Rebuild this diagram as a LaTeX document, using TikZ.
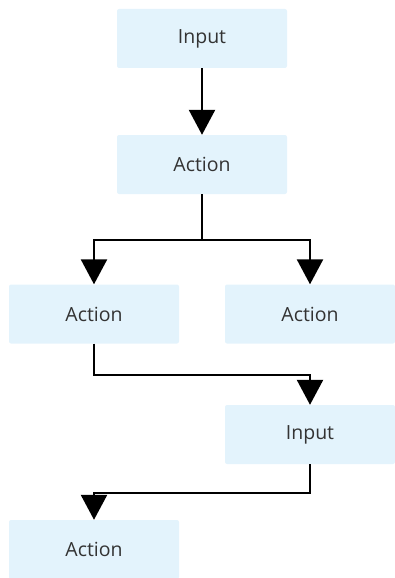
\documentclass[tikz,border=0pt]{standalone}
\usepackage{fontspec}
\setmainfont{Open Sans}
\usetikzlibrary{arrows.meta}
\definecolor{boxfill}{HTML}{E3F3FC}
\definecolor{txt}{HTML}{333333}
\begin{document}
\begin{tikzpicture}[x=1pt,y=-1pt,
  box/.style={fill=boxfill,rounded corners=2pt,minimum width=170pt,minimum height=59pt,inner sep=0pt,text=txt,font=\fontsize{19.5}{22}\selectfont},
  conn/.style={line width=2.5pt,-{Triangle[length=25pt,width=26pt]},rounded corners=0pt}]
\useasboundingbox (0,0) rectangle (395,578);
\node[box] (in1) at (202,38.5) {Input};
\node[box] (ac1) at (202,164.5) {Action};
\node[box] (ac2) at (94,314) {Action};
\node[box] (ac3) at (310,314) {Action};
\node[box] (in2) at (310,434.5) {Input};
\node[box] (ac4) at (94,549.5) {Action};
\draw[conn] (in1) -- (ac1);
\draw[conn] (ac1.south) -- ++(0,46) -| (ac2.north);
\draw[conn] (ac1.south) -- ++(0,46) -| (ac3.north);
\draw[conn] (ac2.south) -- ++(0,31.5) -| (in2.north);
\draw[conn] (in2.south) -- ++(0,29) -| (ac4.north);
\end{tikzpicture}
\end{document}
